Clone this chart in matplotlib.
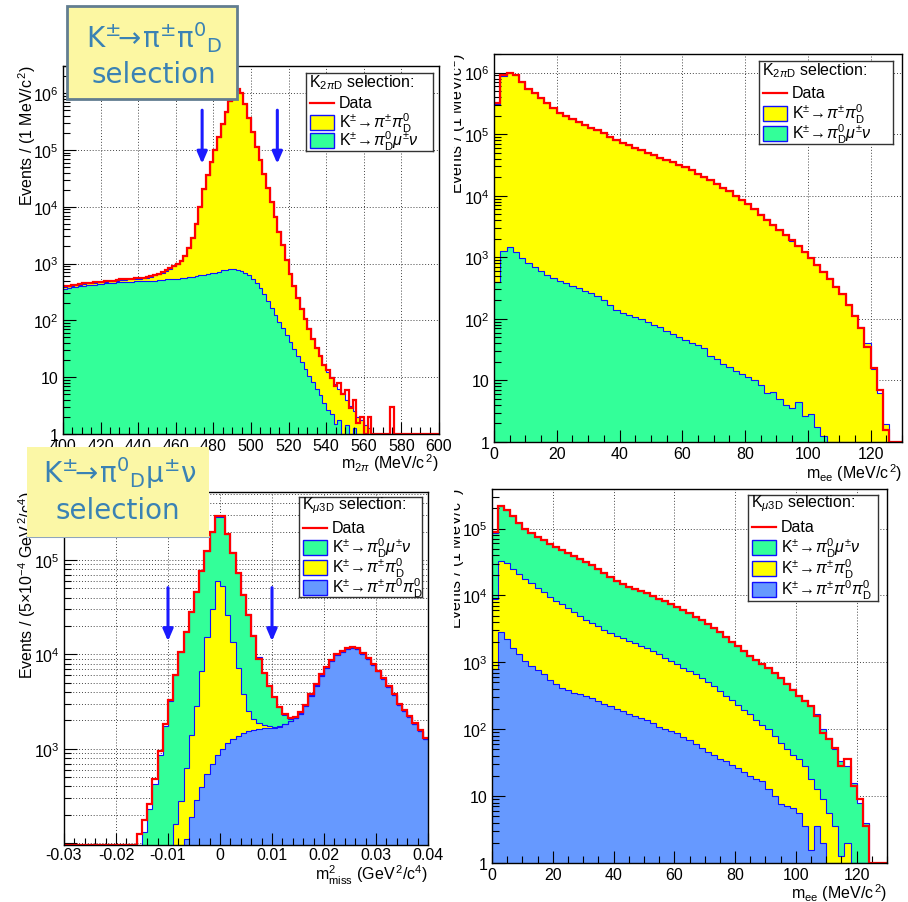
import numpy as np
import matplotlib
matplotlib.use('Agg')
import matplotlib.pyplot as plt
from matplotlib.patches import Rectangle
from matplotlib.ticker import LogLocator, MultipleLocator, FuncFormatter, NullFormatter
from matplotlib.transforms import Bbox, TransformedBbox

plt.rcParams['font.family'] = ['Liberation Sans', 'DejaVu Sans']
plt.rcParams['mathtext.fontset'] = 'custom'
plt.rcParams['mathtext.rm'] = 'Liberation Sans'
plt.rcParams['mathtext.it'] = 'Liberation Sans:italic'
plt.rcParams['mathtext.bf'] = 'Liberation Sans:bold'
plt.rcParams['mathtext.sf'] = 'Liberation Sans'

W, H = 908, 903
FS = 11.5

# ---- data: log10(events per bin), 0 means an empty bin ----
# K2piD selection, m_2pi, 2 MeV bins from 400 to 600
m2pi_edges = np.arange(400, 602, 2)
m2pi_data = [2.60, 2.61, 2.62, 2.63, 2.64, 2.65, 2.66, 2.66, 2.67, 2.68,
             2.68, 2.69, 2.70, 2.70, 2.71, 2.72, 2.72, 2.73, 2.73, 2.74,
             2.74, 2.75, 2.76, 2.78, 2.80, 2.82, 2.85, 2.88, 2.92, 2.96,
             3.00, 3.05, 3.14, 3.28, 3.45, 3.70, 4.00, 4.32, 4.55, 4.78,
             5.00, 5.22, 5.45, 5.66, 5.86, 5.99, 6.07, 6.00, 5.80, 5.56,
             5.32, 5.06, 4.82, 4.58, 4.33, 4.08, 3.82, 3.56, 3.32, 3.06,
             2.82, 2.60, 2.40, 2.20, 2.02, 1.85, 1.68, 1.52, 1.38, 1.22,
             1.12, 0.98, 0.85, 0.90, 0.70, 0.78, 0.45, 0.60, 0.20, 0.30,
             0.00, 0.30, 0, 0, 0, 0, 0, 0.48, 0, 0,
             0, 0, 0, 0, 0, 0, 0, 0, 0, 0]
m2pi_mc_total = [2.59, 2.60, 2.61, 2.62, 2.63, 2.64, 2.65, 2.65, 2.66, 2.67,
                 2.67, 2.68, 2.69, 2.69, 2.70, 2.71, 2.71, 2.72, 2.72, 2.73,
                 2.73, 2.74, 2.75, 2.77, 2.79, 2.81, 2.84, 2.87, 2.91, 2.95,
                 3.00, 3.06, 3.15, 3.29, 3.47, 3.71, 4.01, 4.31, 4.55, 4.79,
                 5.01, 5.23, 5.45, 5.66, 5.86, 5.99, 6.06, 6.01, 5.81, 5.57,
                 5.32, 5.07, 4.83, 4.58, 4.33, 4.08, 3.83, 3.57, 3.32, 3.07,
                 2.82, 2.61, 2.40, 2.21, 2.03, 1.86, 1.68, 1.52, 1.37, 1.22,
                 1.10, 1.00, 0.88, 0.80, 0.72, 0.60, 0.50, 0.40, 0.30, 0.25,
                 0.15, 0.10, 0, 0, 0, 0, 0, 0, 0, 0,
                 0, 0, 0, 0, 0, 0, 0, 0, 0, 0]
m2pi_kmu3 = [2.56, 2.57, 2.58, 2.59, 2.60, 2.61, 2.62, 2.62, 2.63, 2.64,
             2.64, 2.65, 2.66, 2.66, 2.67, 2.67, 2.68, 2.68, 2.68, 2.69,
             2.69, 2.69, 2.70, 2.70, 2.70, 2.71, 2.71, 2.72, 2.72, 2.73,
             2.73, 2.74, 2.75, 2.76, 2.77, 2.78, 2.79, 2.80, 2.81, 2.83,
             2.84, 2.86, 2.88, 2.89, 2.90, 2.90, 2.89, 2.87, 2.84, 2.79,
             2.73, 2.66, 2.57, 2.46, 2.34, 2.22, 2.10, 1.98, 1.86, 1.74,
             1.62, 1.50, 1.38, 1.26, 1.14, 1.02, 0.92, 0.80, 0.68, 0.55,
             0.42, 0.35, 0.18, 0.25, 0.00, 0.15, 0.00, 0.10, 0, 0,
             0, 0, 0, 0, 0, 0, 0, 0, 0, 0,
             0, 0, 0, 0, 0, 0, 0, 0, 0, 0]
m2pi_cuts = [474, 514]

# K2piD selection, m_ee, 2 MeV bins from 0 to 130
mee_edges = np.arange(0, 132, 2)
mee2pi_data = [5.50, 5.96, 6.00, 5.96, 5.85, 5.74, 5.66, 5.58, 5.50, 5.42,
               5.35, 5.30, 5.25, 5.20, 5.15, 5.10, 5.06, 5.01, 4.96, 4.91,
               4.86, 4.82, 4.78, 4.74, 4.70, 4.66, 4.62, 4.58, 4.54, 4.50,
               4.46, 4.41, 4.36, 4.31, 4.25, 4.19, 4.13, 4.07, 4.00, 3.93,
               3.86, 3.78, 3.69, 3.61, 3.52, 3.44, 3.36, 3.28, 3.18, 3.08,
               2.98, 2.87, 2.76, 2.65, 2.52, 2.40, 2.22, 2.05, 1.85, 1.55,
               1.20, 0.85, 0.20, 0, 0]
mee2pi_mc_total = [5.49, 5.95, 6.00, 5.96, 5.85, 5.74, 5.66, 5.58, 5.50, 5.42,
                   5.35, 5.30, 5.25, 5.20, 5.15, 5.10, 5.06, 5.01, 4.96, 4.91,
                   4.86, 4.82, 4.78, 4.74, 4.70, 4.66, 4.62, 4.58, 4.54, 4.50,
                   4.46, 4.41, 4.36, 4.31, 4.26, 4.20, 4.13, 4.07, 4.00, 3.93,
                   3.86, 3.79, 3.70, 3.62, 3.53, 3.44, 3.36, 3.27, 3.18, 3.08,
                   2.98, 2.87, 2.77, 2.66, 2.53, 2.40, 2.23, 2.06, 1.86, 1.60,
                   1.18, 0.80, 0.30, 0, 0]
mee2pi_kmu3 = [2.60, 3.10, 3.16, 3.08, 2.98, 2.90, 2.84, 2.78, 2.72, 2.67,
               2.62, 2.58, 2.54, 2.50, 2.46, 2.42, 2.37, 2.30, 2.22, 2.14,
               2.10, 2.06, 2.03, 1.99, 1.95, 1.90, 1.86, 1.80, 1.76, 1.70,
               1.66, 1.60, 1.58, 1.52, 1.40, 1.34, 1.26, 1.22, 1.15, 1.10,
               1.05, 1.00, 0.92, 0.80, 0.82, 0.70, 0.60, 0.55, 0.65, 0.42,
               0.45, 0.25, 0.10, 0, 0, 0, 0, 0, 0, 0,
               0, 0, 0, 0, 0]

# Kmu3D selection, m2_miss, 0.001 GeV2 bins from -0.03 to 0.04
mmiss_edges = np.linspace(-0.03, 0.04, 71)
mmiss_data = [0] * 14 + [
    2.10, 2.25, 2.42, 2.68, 2.98, 3.26, 3.52, 3.78, 4.03, 4.24,
    4.45, 4.66, 4.88, 5.10, 5.30, 5.47, 5.47, 5.28, 5.07, 4.86,
    4.63, 4.42, 4.20, 3.95, 3.80, 3.67, 3.55, 3.44, 3.37, 3.33,
    3.34, 3.39, 3.47, 3.58, 3.69, 3.79, 3.87, 3.94, 4.00, 4.04,
    4.07, 4.08, 4.07, 4.02, 3.96, 3.90, 3.83, 3.75, 3.67, 3.58,
    3.48, 3.41, 3.35, 3.27, 3.20, 3.12]
mmiss_mc_total = [0] * 14 + [
    0.00, 2.12, 2.36, 2.63, 2.94, 3.24, 3.51, 3.78, 4.03, 4.25,
    4.46, 4.67, 4.89, 5.10, 5.30, 5.46, 5.46, 5.28, 5.08, 4.86,
    4.64, 4.43, 4.21, 3.97, 3.80, 3.67, 3.55, 3.44, 3.36, 3.32,
    3.33, 3.38, 3.46, 3.57, 3.68, 3.78, 3.87, 3.94, 4.00, 4.04,
    4.07, 4.08, 4.06, 4.01, 3.95, 3.89, 3.82, 3.74, 3.66, 3.57,
    3.47, 3.40, 3.34, 3.26, 3.19, 3.10]
mmiss_k2pi_stack = [0] * 14 + [
    0, 0, 0, 0, 0, 0, 0, 2.20, 2.45, 2.80,
    3.15, 3.45, 3.82, 4.18, 4.48, 4.78, 4.72, 4.42, 4.13, 3.86,
    3.58, 3.40, 3.32, 3.27, 3.25, 3.24, 3.23, 3.24, 3.26, 3.30,
    3.33, 3.37, 3.45, 3.56, 3.67, 3.77, 3.86, 3.93, 3.99, 4.03,
    4.06, 4.07, 4.06, 4.01, 3.95, 3.89, 3.82, 3.74, 3.66, 3.57,
    3.47, 3.40, 3.34, 3.26, 3.19, 3.10]
mmiss_k3pi = [0] * 14 + [
    0, 0, 0, 0, 0, 0, 0, 0, 0, 2.05,
    2.28, 2.46, 2.60, 2.73, 2.84, 2.93, 3.00, 3.06, 3.10, 3.14,
    3.17, 3.19, 3.20, 3.21, 3.22, 3.22, 3.22, 3.23, 3.26, 3.30,
    3.33, 3.37, 3.45, 3.56, 3.67, 3.77, 3.86, 3.93, 3.99, 4.03,
    4.06, 4.07, 4.06, 4.01, 3.95, 3.89, 3.82, 3.74, 3.66, 3.57,
    3.47, 3.40, 3.34, 3.26, 3.19, 3.10]
mmiss_cuts = [-0.01, 0.01]

# Kmu3D selection, m_ee, 2 MeV bins from 0 to 130
meemu_data = [4.95, 5.34, 5.28, 5.18, 5.08, 5.00, 4.94, 4.88, 4.83, 4.77,
              4.72, 4.68, 4.63, 4.59, 4.55, 4.50, 4.45, 4.39, 4.33, 4.27,
              4.21, 4.17, 4.13, 4.09, 4.06, 4.03, 3.99, 3.95, 3.91, 3.87,
              3.83, 3.78, 3.73, 3.68, 3.63, 3.57, 3.51, 3.45, 3.38, 3.31,
              3.24, 3.17, 3.10, 3.03, 2.97, 2.91, 2.84, 2.76, 2.68, 2.59,
              2.50, 2.42, 2.34, 2.20, 1.95, 1.85, 1.72, 1.45, 1.55, 1.15,
              0.95, 0.55, 0, 0, 0]
meemu_mc_total = [4.94, 5.33, 5.28, 5.18, 5.08, 5.00, 4.94, 4.88, 4.83, 4.77,
                  4.72, 4.68, 4.63, 4.59, 4.55, 4.50, 4.45, 4.39, 4.33, 4.27,
                  4.21, 4.17, 4.13, 4.09, 4.06, 4.03, 3.99, 3.95, 3.91, 3.87,
                  3.83, 3.78, 3.73, 3.68, 3.63, 3.58, 3.52, 3.45, 3.38, 3.31,
                  3.24, 3.17, 3.10, 3.04, 2.97, 2.91, 2.84, 2.77, 2.69, 2.60,
                  2.50, 2.43, 2.34, 2.22, 2.00, 1.87, 1.70, 1.52, 1.45, 1.20,
                  0.90, 0.60, 0, 0, 0]
meemu_k2pi_stack = [3.95, 4.52, 4.48, 4.40, 4.32, 4.24, 4.18, 4.11, 4.05, 3.98,
                    3.92, 3.87, 3.81, 3.75, 3.69, 3.64, 3.59, 3.54, 3.49, 3.44,
                    3.39, 3.36, 3.32, 3.29, 3.25, 3.21, 3.17, 3.12, 3.07, 3.02,
                    2.97, 2.92, 2.87, 2.82, 2.77, 2.71, 2.64, 2.57, 2.50, 2.43,
                    2.36, 2.29, 2.22, 2.14, 2.07, 2.00, 1.90, 1.80, 1.70, 1.62,
                    1.55, 1.45, 1.25, 1.10, 0.95, 0.75, 0.55, 0.10, 0.30, 0,
                    0, 0, 0, 0, 0]
meemu_k3pi = [2.90, 3.45, 3.35, 3.22, 3.12, 3.02, 2.95, 2.88, 2.82, 2.74,
              2.68, 2.62, 2.58, 2.54, 2.52, 2.49, 2.46, 2.42, 2.38, 2.34,
              2.30, 2.27, 2.22, 2.20, 2.17, 2.14, 2.10, 2.04, 2.00, 1.98,
              1.94, 1.88, 1.84, 1.78, 1.72, 1.66, 1.62, 1.56, 1.52, 1.46,
              1.42, 1.36, 1.30, 1.26, 1.22, 1.10, 1.00, 0.88, 0.85, 0.82,
              0.75, 0.56, 0.20, 0.55, 0.30, 0, 0, 0, 0, 0,
              0, 0, 0, 0, 0]

YELLOW = '#ffff00'
GREEN = '#33ff99'
AZURE = '#6699ff'
LINEBLUE = '#1010ff'

lab_data = 'Data'
lab_k2pi = r'K$^{\pm}\!\rightarrow\!\pi^{\pm}\pi^{0}_{\mathrm{D}}$'
lab_kmu3 = r'K$^{\pm}\!\rightarrow\!\pi^{0}_{\mathrm{D}}\mu^{\pm}\nu$'
lab_k3pi = r'K$^{\pm}\!\rightarrow\!\pi^{\pm}\pi^{0}\pi^{0}_{\mathrm{D}}$'
ylab_mev = r'Events / (1 MeV/c$^{\,2}$)'
ylab_gev = r'Events / (5$\times$10$^{-4}$ GeV$^{\,2}$/c$^{4}$)'
xlab_m2pi = r'm$_{2\pi}$ (MeV/c$^{\,2}$)'
xlab_mee = r'm$_{\mathrm{ee}}$ (MeV/c$^{\,2}$)'
xlab_mmiss = r'm$^{2}_{\mathrm{miss}}$ (GeV$^{\,2}$/c$^{4}$)'


def fx(px):
    return px / W


def fy(py):
    return 1 - py / H


def add_axes_px(fig, x0, y0, x1, y1):
    return fig.add_axes([fx(x0), fy(y1), (x1 - x0) / W, (y1 - y0) / H])


def log_label(v, pos, lowest=1):
    if v < lowest:
        return ''
    if v == 1:
        return '1'
    if v == 10:
        return '10'
    return r'10$^{%d}$' % int(round(np.log10(v)))


def style_axes(ax, xlim, ylim, xmajor, xminor, lowest=1, minor_grid=False, xpad=3):
    ax.set_yscale('log')
    ax.set_xlim(*xlim)
    ax.set_ylim(*ylim)
    ax.xaxis.set_major_locator(MultipleLocator(xmajor))
    ax.xaxis.set_minor_locator(MultipleLocator(xminor))
    ax.yaxis.set_major_locator(LogLocator(10, numticks=12))
    ax.yaxis.set_minor_locator(LogLocator(10, subs=np.arange(2, 10), numticks=12))
    ax.yaxis.set_minor_formatter(NullFormatter())
    ax.yaxis.set_major_formatter(FuncFormatter(lambda v, p: log_label(v, p, lowest)))
    ax.tick_params(which='both', direction='in', top=False, right=False,
                   labelsize=FS, width=0.8)
    ax.tick_params(axis='y', pad=3)
    ax.tick_params(axis='x', pad=xpad)
    ax.tick_params(which='major', length=9)
    ax.tick_params(which='minor', length=5)
    for s in ax.spines.values():
        s.set_linewidth(1)
    # dotted grid kept under the filled histograms, ticks stay on top
    gkw = dict(ls=(0, (1, 2)), color='#444444', lw=0.7, zorder=0.5)
    for v in ax.get_xticks():
        if xlim[0] < v < xlim[1]:
            ax.axvline(v, **gkw)
    for v in ax.get_yticks():
        if ylim[0] < v < ylim[1]:
            ax.axhline(v, **gkw)
    if minor_grid:
        for v in ax.yaxis.get_minorticklocs():
            if ylim[0] < v < ylim[1]:
                ax.axhline(v, **gkw)


def draw_stack(ax, edges, layers, data, floor):
    for top, color in layers:
        vals = 10 ** np.asarray(top, dtype=float)
        ax.stairs(vals, edges, baseline=1e-3, fill=True, color=color, lw=0, zorder=1)
        ax.stairs(vals, edges, baseline=None, color=LINEBLUE, lw=0.8, zorder=1.2)
    dvals = np.maximum(10 ** np.asarray(data, dtype=float), floor)
    ax.stairs(dvals, edges, baseline=None, color='red', lw=1.6, zorder=2)


def draw_cuts(ax, cuts, ytop, ytip):
    for c in cuts:
        ax.annotate('', xy=(c, ytip), xytext=(c, ytop),
                    arrowprops=dict(arrowstyle='-|>,head_width=0.3,head_length=0.7',
                                    color='#1a1aff', lw=2.2, shrinkA=0, shrinkB=0),
                    zorder=3)


def draw_legend(fig, box, title, entries, rows):
    x0, y0, x1, y1 = box
    lax = add_axes_px(fig, x0, y0, x1, y1)
    w, h = x1 - x0, y1 - y0
    lax.set_xlim(0, w)
    lax.set_ylim(h, 0)
    lax.set_xticks([])
    lax.set_yticks([])
    for s in lax.spines.values():
        s.set_linewidth(1)
        s.set_color('#333333')
    lax.text(3, rows[0], title, va='center', ha='left', fontsize=FS)
    for (kind, color, label), ry in zip(entries, rows[1:]):
        if kind == 'line':
            lax.plot([4, 28], [ry, ry], color=color, lw=1.6)
        else:
            lax.add_patch(Rectangle((4, ry - 7.5), 24, 15, fc=color, ec=LINEBLUE, lw=1))
        lax.text(33, ry, label, va='center', ha='left', fontsize=FS)


def clipped_ylabel(fig, x, ytop, text, clip_left):
    t = fig.text(fx(x), fy(ytop), text, rotation=90, ha='center', va='top', fontsize=FS)
    if clip_left is not None:
        t.set_clip_box(TransformedBbox(Bbox.from_extents(fx(clip_left), 0, 1, 1),
                                       fig.transFigure))
        t.set_clip_on(True)
    return t


fig = plt.figure(figsize=(W / 100, H / 100), dpi=100)

# top left: m_2pi
ax1 = add_axes_px(fig, 63, 67, 439, 435)
style_axes(ax1, (400, 600), (1, 3.0e6), 20, 5)
draw_stack(ax1, m2pi_edges, [(m2pi_mc_total, YELLOW), (m2pi_kmu3, GREEN)], m2pi_data, 1)
draw_cuts(ax1, m2pi_cuts, 5.0e5, 5.7e4)

# top right: m_ee, K2piD
ax2 = add_axes_px(fig, 494, 55, 902, 443)
style_axes(ax2, (0, 130), (1, 2.0e6), 20, 5)
draw_stack(ax2, mee_edges, [(mee2pi_mc_total, YELLOW), (mee2pi_kmu3, GREEN)], mee2pi_data, 1)

# bottom left: m2_miss
ax3 = add_axes_px(fig, 64, 493, 428, 846)
style_axes(ax3, (-0.03, 0.04), (96, 5.25e5), 0.01, 0.002, lowest=999, minor_grid=True,
           xpad=1.5)
ax3.xaxis.set_major_formatter(FuncFormatter(lambda v, p: '0' if abs(v) < 1e-9 else '%g' % v))
draw_stack(ax3, mmiss_edges, [(mmiss_mc_total, GREEN), (mmiss_k2pi_stack, YELLOW),
                              (mmiss_k3pi, AZURE)], mmiss_data, 96)
draw_cuts(ax3, mmiss_cuts, 5.1e4, 1.38e4)

# bottom right: m_ee, Kmu3D
ax4 = add_axes_px(fig, 492, 490, 887, 864)
style_axes(ax4, (0, 130), (1, 3.9e5), 20, 5)
draw_stack(ax4, mee_edges, [(meemu_mc_total, GREEN), (meemu_k2pi_stack, YELLOW),
                            (meemu_k3pi, AZURE)], meemu_data, 1)

# axis titles, ROOT style (right / top aligned)
fig.text(fx(439), fy(463), xlab_m2pi, ha='right', va='center', fontsize=FS)
fig.text(fx(902), fy(473), xlab_mee, ha='right', va='center', fontsize=FS)
fig.text(fx(428), fy(875), xlab_mmiss, ha='right', va='center', fontsize=FS)
fig.text(fx(887), fy(893), xlab_mee, ha='right', va='center', fontsize=FS)
clipped_ylabel(fig, 27, 65, ylab_mev, None)
clipped_ylabel(fig, 457, 53, ylab_mev, 454)
clipped_ylabel(fig, 27, 492, ylab_gev, None)
clipped_ylabel(fig, 456, 488, ylab_mev, 454)

# legends
draw_legend(fig, (306, 74, 433, 152), r'K$_{2\pi\mathrm{D}}$ selection:',
            [('line', 'red', lab_data), ('box', YELLOW, lab_k2pi), ('box', GREEN, lab_kmu3)],
            [9, 30, 49, 67])
draw_legend(fig, (759, 62, 893, 145), r'K$_{2\pi\mathrm{D}}$ selection:',
            [('line', 'red', lab_data), ('box', YELLOW, lab_k2pi), ('box', GREEN, lab_kmu3)],
            [9, 32, 52, 72])
draw_legend(fig, (299, 498, 422, 598), r'K$_{\mu 3\mathrm{D}}$ selection:',
            [('line', 'red', lab_data), ('box', GREEN, lab_kmu3), ('box', YELLOW, lab_k2pi),
             ('box', AZURE, lab_k3pi)],
            [8, 31, 50, 70, 90])
draw_legend(fig, (748, 496, 878, 602), r'K$_{\mu 3\mathrm{D}}$ selection:',
            [('line', 'red', lab_data), ('box', GREEN, lab_kmu3), ('box', YELLOW, lab_k2pi),
             ('box', AZURE, lab_k3pi)],
            [8, 32, 52, 73, 94])

# pasted selection captions
TXT = '#3a82b4'
fig.patches.append(Rectangle((fx(67), fy(100)), (237 - 67) / W, 93 / H,
                             transform=fig.transFigure, fc='#fcf7a2', ec='#627d90',
                             lw=2, zorder=5))
fig.text(fx(154), fy(38), r'K$^{\pm}$$\!\!\rightarrow\!$π$^{\pm}$π$^{0}$$_{\mathrm{D}}$',
         ha='center', va='center', fontsize=20, color=TXT, family='DejaVu Sans',
         math_fontfamily='dejavusans', zorder=6)
fig.text(fx(154), fy(75), 'selection', ha='center', va='center', fontsize=20,
         color=TXT, family='DejaVu Sans', zorder=6)

fig.patches.append(Rectangle((fx(27), fy(538)), (209 - 27) / W, 90 / H,
                             transform=fig.transFigure, fc='#fbf7a6', ec='none', zorder=5))
fig.lines.append(plt.Line2D([fx(27), fx(209)], [fy(538), fy(538)], transform=fig.transFigure,
                            color='#8fa5bd', lw=1.5, zorder=5))
fig.text(fx(120), fy(473), r'K$^{\pm}$$\!\!\rightarrow\!$π$^{0}$$_{\mathrm{D}}$μ$^{\pm}$ν',
         ha='center', va='center', fontsize=20, color=TXT, family='DejaVu Sans',
         math_fontfamily='dejavusans', zorder=6)
fig.text(fx(118), fy(511), 'selection', ha='center', va='center', fontsize=20,
         color=TXT, family='DejaVu Sans', zorder=6)

fig.savefig('out.png', dpi=100)
